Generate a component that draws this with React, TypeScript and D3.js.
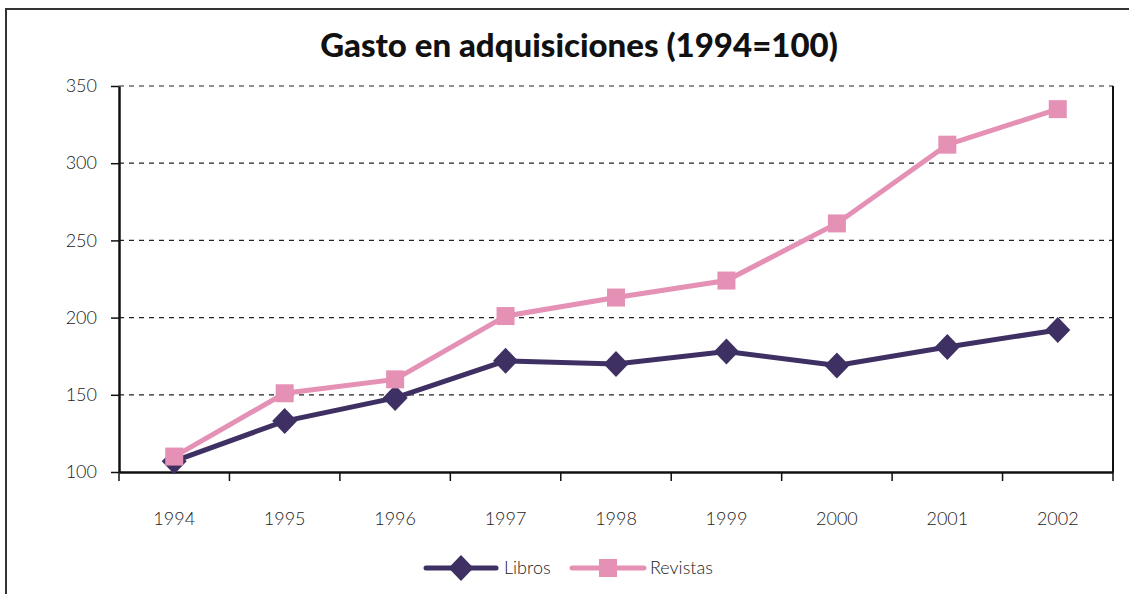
import { useEffect, useRef } from "react";
import * as d3 from "d3";

const YEARS = ["1994", "1995", "1996", "1997", "1998", "1999", "2000", "2001", "2002"];
const LIBROS = [107, 133, 148, 172, 170, 178, 169, 181, 192];
const REVISTAS = [110, 151, 160, 201, 213, 224, 261, 312, 335];
const Y_TICKS = [100, 150, 200, 250, 300, 350];

const LIBROS_COLOR = "#3f3063";
const REVISTAS_COLOR = "#e591b5";
const FONT = "Lato, 'Open Sans', sans-serif";
const TEXT_COLOR = "#1a1a1a";
const DIAMOND = "M0,-13L12.5,0L0,13L-12.5,0Z";

export default function App() {
  const ref = useRef<SVGSVGElement | null>(null);

  useEffect(() => {
    if (!ref.current) return;
    const svg = d3.select(ref.current);
    svg.selectAll("*").remove();

    const width = 1129;
    const height = 594;
    const margin = { top: 86, right: 16, bottom: 122, left: 119 };

    // outer chart frame
    svg
      .append("rect")
      .attr("x", 6)
      .attr("y", 9)
      .attr("width", width + 20)
      .attr("height", height + 20)
      .attr("fill", "#fff")
      .attr("stroke", "#333")
      .attr("stroke-width", 2);

    svg
      .append("text")
      .attr("x", 579)
      .attr("y", 57)
      .attr("text-anchor", "middle")
      .attr("font-family", FONT)
      .attr("font-weight", 900)
      .attr("font-size", 33)
      .attr("fill", "#111")
      .text("Gasto en adquisiciones (1994=100)");

    const x = d3
      .scaleBand<string>()
      .domain(YEARS)
      .range([margin.left, width - margin.right])
      .padding(0);

    const y = d3
      .scaleLinear()
      .domain([100, 350])
      .range([height - margin.bottom, margin.top]);

    // grid lines
    svg
      .append("g")
      .selectAll("line")
      .data(Y_TICKS.filter((t) => t > 100))
      .enter()
      .append("line")
      .attr("x1", margin.left)
      .attr("x2", width - margin.right)
      .attr("y1", (d) => y(d))
      .attr("y2", (d) => y(d))
      .attr("stroke", "#222")
      .attr("stroke-width", 1.2)
      .attr("stroke-dasharray", "5,5");

    // right border
    svg
      .append("line")
      .attr("x1", width - margin.right)
      .attr("x2", width - margin.right)
      .attr("y1", y(350))
      .attr("y2", y(100))
      .attr("stroke", "#111")
      .attr("stroke-width", 2);

    const yAxis = svg
      .append("g")
      .attr("transform", `translate(${margin.left},0)`)
      .call(d3.axisLeft(y).tickValues(Y_TICKS).tickSize(8).tickPadding(14).tickSizeOuter(0));
    yAxis.select(".domain").attr("stroke", "#111").attr("stroke-width", 2.5);
    yAxis.selectAll(".tick line").attr("stroke", "#111").attr("stroke-width", 1.5);
    yAxis
      .selectAll("text")
      .attr("font-family", FONT)
      .attr("font-weight", 300)
      .attr("font-size", 18)
      .attr("fill", TEXT_COLOR);

    const xAxis = svg
      .append("g")
      .attr("transform", `translate(0,${height - margin.bottom})`)
      .call(d3.axisBottom(x).tickSize(0).tickPadding(40));
    xAxis.select(".domain").attr("stroke", "#111").attr("stroke-width", 2.5);
    xAxis
      .selectAll("text")
      .attr("font-family", FONT)
      .attr("font-weight", 300)
      .attr("font-size", 18)
      .attr("fill", TEXT_COLOR);

    // ticks between categories
    svg
      .append("g")
      .selectAll("line")
      .data([...YEARS.map((d) => x(d) ?? 0), width - margin.right])
      .enter()
      .append("line")
      .attr("x1", (d) => d)
      .attr("x2", (d) => d)
      .attr("y1", height - margin.bottom)
      .attr("y2", height - margin.bottom + 9)
      .attr("stroke", "#111")
      .attr("stroke-width", 1.5);

    const cx = (i: number) => (x(YEARS[i]) ?? 0) + x.bandwidth() / 2;

    const line = d3
      .line<number>()
      .x((_, i) => cx(i))
      .y((d) => y(d));

    svg
      .append("path")
      .datum(LIBROS)
      .attr("d", line)
      .attr("fill", "none")
      .attr("stroke", LIBROS_COLOR)
      .attr("stroke-width", 5);

    svg
      .append("g")
      .selectAll("path")
      .data(LIBROS)
      .enter()
      .append("path")
      .attr("d", DIAMOND)
      .attr("transform", (d, i) => `translate(${cx(i)},${y(d)})`)
      .attr("fill", LIBROS_COLOR);

    svg
      .append("path")
      .datum(REVISTAS)
      .attr("d", line)
      .attr("fill", "none")
      .attr("stroke", REVISTAS_COLOR)
      .attr("stroke-width", 5);

    svg
      .append("g")
      .selectAll("rect")
      .data(REVISTAS)
      .enter()
      .append("rect")
      .attr("x", (_, i) => cx(i) - 9)
      .attr("y", (d) => y(d) - 9)
      .attr("width", 18)
      .attr("height", 18)
      .attr("fill", REVISTAS_COLOR);

    // legend
    const legend = svg.append("g").attr("transform", "translate(0,568)");
    legend
      .append("line")
      .attr("x1", 426)
      .attr("x2", 496)
      .attr("stroke", LIBROS_COLOR)
      .attr("stroke-width", 5)
      .attr("stroke-linecap", "round");
    legend
      .append("path")
      .attr("d", DIAMOND)
      .attr("transform", "translate(461,0)")
      .attr("fill", LIBROS_COLOR);
    legend
      .append("text")
      .attr("x", 504)
      .attr("y", 6)
      .attr("font-family", FONT)
      .attr("font-weight", 300)
      .attr("font-size", 18)
      .attr("fill", TEXT_COLOR)
      .text("Libros");
    legend
      .append("line")
      .attr("x1", 572)
      .attr("x2", 644)
      .attr("stroke", REVISTAS_COLOR)
      .attr("stroke-width", 5)
      .attr("stroke-linecap", "round");
    legend
      .append("rect")
      .attr("x", 599)
      .attr("y", -9)
      .attr("width", 18)
      .attr("height", 18)
      .attr("fill", REVISTAS_COLOR);
    legend
      .append("text")
      .attr("x", 650)
      .attr("y", 6)
      .attr("font-family", FONT)
      .attr("font-weight", 300)
      .attr("font-size", 18)
      .attr("fill", TEXT_COLOR)
      .text("Revistas");
  }, []);

  return (
    <svg
      ref={ref}
      width={1129}
      height={594}
      style={{ position: "absolute", left: 0, top: 0, display: "block" }}
    />
  );
}
